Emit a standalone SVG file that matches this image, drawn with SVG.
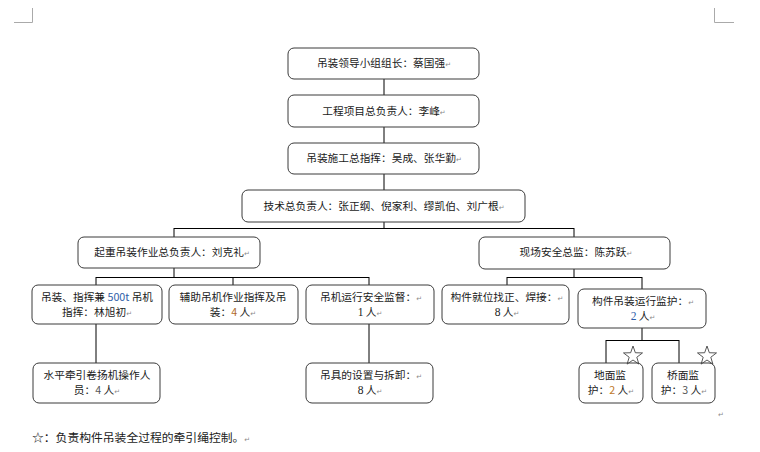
<svg xmlns="http://www.w3.org/2000/svg" width="760" height="452" viewBox="0 0 760 452">
<style>
.box{fill:#fff;stroke:#3a3a3a;stroke-width:1}
.ln{stroke:#000;stroke-width:1;fill:none}
.t{font-family:"Noto Sans CJK SC","Noto Sans",sans-serif;font-size:10.7px;fill:#1a1a1a;text-anchor:middle}
.n{font-family:"Liberation Serif",serif;font-size:11.5px}
.pm{font-family:"DejaVu Sans",sans-serif;font-size:7px;fill:#8a8a8a}
.crn{stroke:#aaa;stroke-width:1;fill:none}
.star{fill:none;stroke:#444;stroke-width:0.9}
</style>
<defs>
<polygon id="st" points="0,-10 2.35,-3.24 9.51,-3.09 3.8,1.24 5.88,8.09 0,4 -5.88,8.09 -3.8,1.24 -9.51,-3.09 -2.35,-3.24"/>
</defs>
<path class="crn" d="M32.5 8V22.5H14M714.5 8V22.5H734"/>
<g id="connectors">
<path class="ln" d="M384 79V95M384 127V143M384 174V190M384 222V228.5M174 228.5H574M174 228V237M574 228V237"/>
<path class="ln" d="M174 268V277.5M96 277.5H369M96 277V285M233 277V285M369 277V285"/>
<path class="ln" d="M574 269V277.5M507 277.5H642M507 277V285M642 277V289"/>
<path class="ln" d="M96 324V363M369 324V363"/>
<path class="ln" d="M642 328V340.5M606 340.5H679M606 340V363M679 340V363"/>
</g>
<g id="n1"><rect class="box" x="288" y="48" width="191" height="31" rx="6"/>
<text class="t" x="384" y="67">吊装领导小组组长：蔡国强<tspan class="pm">↵</tspan></text></g>
<g id="n2"><rect class="box" x="288" y="95" width="191" height="32" rx="6"/>
<text class="t" x="384" y="115">工程项目总负责人：李峰<tspan class="pm">↵</tspan></text></g>
<g id="n3"><rect class="box" x="288" y="143" width="191" height="31" rx="6"/>
<text class="t" x="384" y="162">吊装施工总指挥：吴成、张华勤<tspan class="pm">↵</tspan></text></g>
<g id="n4"><rect class="box" x="242" y="190" width="283" height="32" rx="6"/>
<text class="t" x="384" y="210">技术总负责人：张正纲、倪家利、缪凯伯、刘广根<tspan class="pm">↵</tspan></text></g>
<g id="n5"><rect class="box" x="78" y="237" width="182" height="31" rx="6"/>
<text class="t" x="172" y="256">起重吊装作业总负责人：刘克礼<tspan class="pm">↵</tspan></text></g>
<g id="n6"><rect class="box" x="479" y="237" width="191" height="32" rx="6"/>
<text class="t" x="576" y="256">现场安全总监：陈苏跃<tspan class="pm">↵</tspan></text></g>
<g id="n7"><rect class="box" x="32" y="285" width="130" height="39" rx="6"/>
<text class="t" x="97" y="301">吊装、指挥兼 <tspan fill="#2e5da8">500t</tspan> 吊机</text>
<text class="t" x="97" y="316">指挥：林旭初<tspan class="pm">↵</tspan></text></g>
<g id="n8"><rect class="box" x="169" y="285" width="129" height="39" rx="6"/>
<text class="t" x="233" y="301">辅助吊机作业指挥及吊</text>
<text class="t" x="233" y="316">装：<tspan fill="#b06a2a">4</tspan> 人<tspan class="pm">↵</tspan></text></g>
<g id="n9"><rect class="box" x="306" y="285" width="128" height="39" rx="6"/>
<text class="t" x="371" y="301">吊机运行安全监督：<tspan class="pm">↵</tspan></text>
<text class="t" x="370" y="316"><tspan class="n">1</tspan> 人<tspan class="pm">↵</tspan></text></g>
<g id="n10"><rect class="box" x="442" y="285" width="127" height="39" rx="6"/>
<text class="t" x="507" y="301">构件就位找正、焊接：<tspan class="pm">↵</tspan></text>
<text class="t" x="507" y="316"><tspan class="n">8</tspan> 人<tspan class="pm">↵</tspan></text></g>
<g id="n11"><rect class="box" x="578" y="289" width="128" height="39" rx="6"/>
<text class="t" x="643" y="305">构件吊装运行监护：<tspan class="pm">↵</tspan></text>
<text class="t" x="643" y="320"><tspan class="n" fill="#2e5da8">2</tspan> 人<tspan class="pm">↵</tspan></text></g>
<g id="n12"><rect class="box" x="33" y="363" width="127" height="40" rx="6"/>
<text class="t" x="97" y="379">水平牵引卷扬机操作人</text>
<text class="t" x="97" y="394">员：<tspan fill="#555">4</tspan> 人<tspan class="pm">↵</tspan></text></g>
<g id="n13"><rect class="box" x="306" y="363" width="127" height="40" rx="6"/>
<text class="t" x="371" y="379">吊具的设置与拆卸：<tspan class="pm">↵</tspan></text>
<text class="t" x="370" y="394"><tspan class="n">8</tspan> 人<tspan class="pm">↵</tspan></text></g>
<g id="n14"><rect class="box" x="579" y="363" width="64" height="40" rx="6"/>
<text class="t" x="610" y="379">地面监</text>
<text class="t" x="611" y="394">护：<tspan fill="#c07a2a">2</tspan> 人<tspan class="pm">↵</tspan></text>
<use href="#st" class="star" x="633" y="356"/></g>
<g id="n15"><rect class="box" x="652" y="363" width="63" height="40" rx="6"/>
<text class="t" x="683" y="379">桥面监</text>
<text class="t" x="684" y="394">护：<tspan fill="#555">3</tspan> 人<tspan class="pm">↵</tspan></text>
<use href="#st" class="star" x="707" y="356"/></g>
<text class="pm" x="718" y="417">↵</text>
<text class="t" x="32" y="442" style="text-anchor:start;font-size:11.8px">☆：负责构件吊装全过程的牵引绳控制。<tspan class="pm">↵</tspan></text>
</svg>
